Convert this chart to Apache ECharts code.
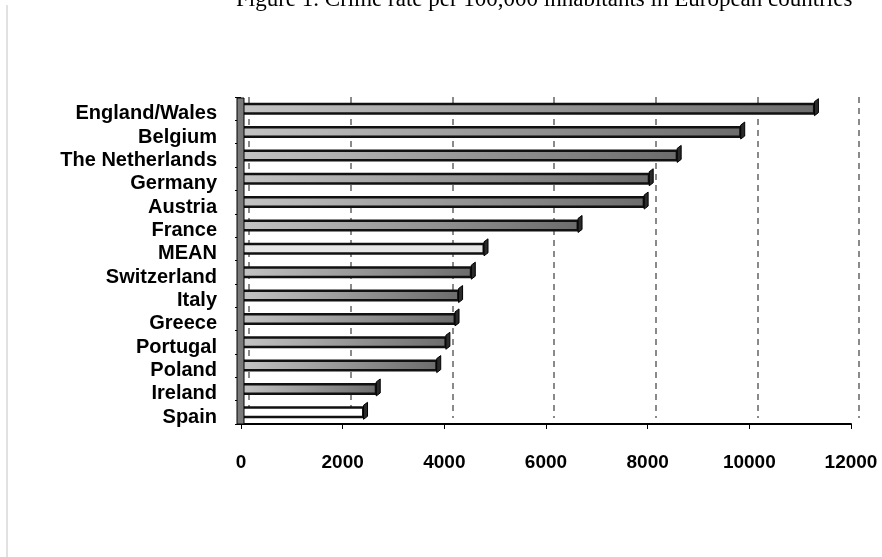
<!DOCTYPE html>
<html>
<head>
<meta charset="utf-8">
<script src="https://cdn.jsdelivr.net/npm/echarts@6/dist/echarts.min.js"></script>
<style>
html,body{margin:0;padding:0;background:#fff;}
#chart{width:882px;height:557px;}
</style>
</head>
<body>
<div id="chart"></div>
<script>
// Data (top to bottom as in the picture)
var categories = ['England/Wales','Belgium','The Netherlands','Germany','Austria','France','MEAN','Switzerland','Italy','Greece','Portugal','Poland','Ireland','Spain'];
var values = [11300, 9850, 8600, 8050, 7950, 6650, 4800, 4550, 4300, 4230, 4050, 3870, 2680, 2430];
var xTicks = [0, 2000, 4000, 6000, 8000, 10000, 12000];
var titleText = 'Figure 1. Crime rate per 100,000 inhabitants in European countries';

var chart = echarts.init(document.getElementById('chart'));

function barStyle(name) {
  if (name === 'MEAN') {
    return {color: '#e6e6e6', borderColor: '#111', borderWidth: 2.5};
  }
  if (name === 'Spain') {
    return {color: '#ffffff', borderColor: '#111', borderWidth: 2.5};
  }
  return {
    color: new echarts.graphic.LinearGradient(0, 0, 1, 0, [
      {offset: 0, color: '#c4c4c4'},
      {offset: 1, color: '#6c6c6c'}
    ]),
    borderColor: '#111',
    borderWidth: 2.5
  };
}

var cats = categories.slice().reverse();
var vals = values.slice().reverse();
var barData = vals.map(function (v, i) {
  return {value: v, itemStyle: barStyle(cats[i])};
});
var capData = vals.map(function (v, i) { return [v, i]; });

var option = {
  animation: false,
  backgroundColor: '#fff',
  grid: [
    {left: 241, right: 31, top: 97, bottom: 133},
    {left: 249, right: 23, top: 97, bottom: 139},
    {left: 241, right: 31, top: 102, bottom: 128}
  ],
  xAxis: [
    {
      gridIndex: 0, type: 'value', min: 0, max: 12000, interval: 2000,
      axisLine: {show: true, lineStyle: {color: '#000', width: 2}},
      axisTick: {show: true, length: 5, lineStyle: {color: '#000', width: 1}},
      splitLine: {show: false},
      axisLabel: {
        color: '#000', fontFamily: 'Liberation Sans, Arial, sans-serif',
        fontWeight: 'bold', fontSize: 19, margin: 29,
        formatter: function (v) { return xTicks.indexOf(v) >= 0 ? String(v) : ''; }
      }
    },
    {
      gridIndex: 1, type: 'value', min: 0, max: 12000, interval: 2000,
      axisLine: {show: false}, axisTick: {show: false}, axisLabel: {show: false},
      splitLine: {show: true, lineStyle: {color: '#8a8a8a', width: 2, type: [6, 5]}}
    },
    {
      gridIndex: 2, type: 'value', min: 0, max: 12000, show: false
    }
  ],
  yAxis: [
    {
      gridIndex: 0, type: 'category', data: cats, offset: 4,
      axisLine: {show: false},
      axisTick: {show: true, length: 6, lineStyle: {color: '#000', width: 1}},
      axisLabel: {show: false}
    },
    {
      gridIndex: 1, type: 'category', data: cats, show: false
    },
    {
      gridIndex: 2, type: 'category', data: cats, offset: 4,
      axisLine: {show: false}, axisTick: {show: false},
      axisLabel: {
        interval: 0,
        color: '#000', fontFamily: 'Liberation Sans, Arial, sans-serif',
        fontWeight: 'bold', fontSize: 20, margin: 20
      }
    }
  ],
  series: [
    {
      type: 'bar', xAxisIndex: 0, yAxisIndex: 0,
      data: barData, barWidth: 12, z: 5
    },
    {
      type: 'custom', xAxisIndex: 0, yAxisIndex: 0, z: 6,
      data: capData,
      renderItem: function (params, api) {
        var p = api.coord([api.value(0), api.value(1)]);
        var x = p[0], yT = p[1] - 7, yB = p[1] + 7;
        return {
          type: 'polygon',
          shape: {points: [[x - 1, yT], [x + 3, yT - 3], [x + 3, yB - 3], [x - 1, yB]]},
          style: {fill: '#2a2a2a', stroke: '#000', lineWidth: 1}
        };
      }
    }
  ],
  graphic: [
    {type: 'line', shape: {x1: 7, y1: 5, x2: 7, y2: 557}, style: {stroke: '#c4c4c4', lineWidth: 1}},
    {type: 'rect', z: 100, shape: {x: 237, y: 98, width: 7, height: 326},
     style: {fill: '#7a7a7a', stroke: '#000', lineWidth: 1}},
    {type: 'text', left: 236, top: -12,
     style: {text: titleText, fontFamily: 'Liberation Serif, Times New Roman, serif', fontSize: 23, fill: '#000'}}
  ]
};
chart.setOption(option);
</script>
</body>
</html>
